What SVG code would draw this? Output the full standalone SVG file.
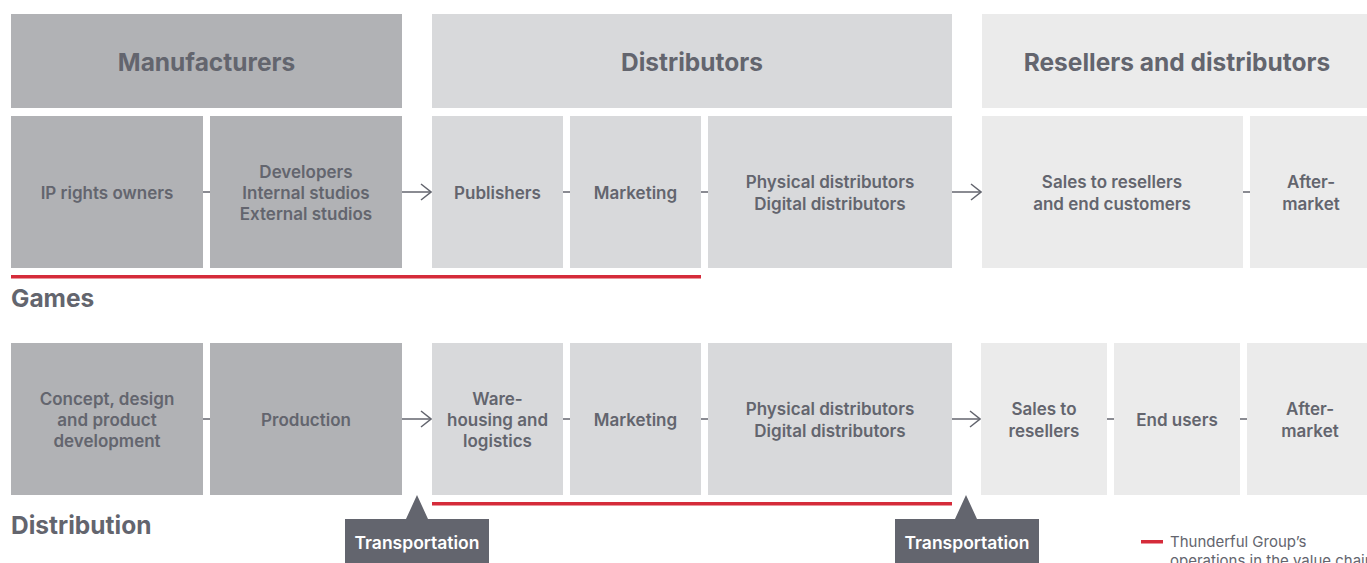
<svg xmlns="http://www.w3.org/2000/svg" width="1367" height="563" viewBox="0 0 1367 563">
<style>
.d{fill:#b1b2b5}.m{fill:#d8d9db}.l{fill:#ebebeb}
.h{font-family:Inter,"Liberation Sans",sans-serif;font-weight:700;font-size:24.5px;fill:#63656e;text-anchor:middle}
.t{font-family:Inter,"Liberation Sans",sans-serif;font-weight:600;font-size:17px;fill:#63656e;text-anchor:middle}
.s{font-family:Inter,"Liberation Sans",sans-serif;font-weight:700;font-size:24.5px;fill:#63656e}
.c{stroke:#63656e;stroke-width:1.5;fill:none}
.r{fill:#d52b3a}
.tb{fill:#63656e}
.tt{font-family:Inter,"Liberation Sans",sans-serif;font-weight:600;font-size:17.5px;fill:#ffffff;text-anchor:middle}
.lg{font-family:Inter,"Liberation Sans",sans-serif;font-size:15px;fill:#63656e}
</style>
<defs>
<marker id="ar" markerWidth="12" markerHeight="20" refX="11" refY="9" orient="auto" markerUnits="userSpaceOnUse">
<path d="M1,1 L11,9 L1,17" fill="none" stroke="#63656e" stroke-width="1.5"/>
</marker>
</defs>

<g id="hdr-manufacturers"><rect class="d" x="11" y="14" width="391" height="94"/><text class="h" x="206.5" y="71">Manufacturers</text></g>
<g id="hdr-distributors"><rect class="m" x="432" y="14" width="520" height="94"/><text class="h" x="692" y="71">Distributors</text></g>
<g id="hdr-resellers"><rect class="l" x="982" y="14" width="385" height="94"/><text class="h" x="1177" y="71">Resellers and distributors</text></g>

<g id="g-ip"><rect class="d" x="11" y="116" width="192" height="152"/><text class="t" x="107" y="199">IP rights owners</text></g>
<g id="g-dev"><rect class="d" x="210" y="116" width="192" height="152"/><text class="t" x="306" y="178">Developers</text><text class="t" x="306" y="199">Internal studios</text><text class="t" x="306" y="220">External studios</text></g>
<g id="g-pub"><rect class="m" x="432" y="116" width="131" height="152"/><text class="t" x="497.5" y="199">Publishers</text></g>
<g id="g-mkt"><rect class="m" x="570" y="116" width="131" height="152"/><text class="t" x="635.5" y="199">Marketing</text></g>
<g id="g-phys"><rect class="m" x="708" y="116" width="244" height="152"/><text class="t" x="830" y="188">Physical distributors</text><text class="t" x="830" y="210">Digital distributors</text></g>
<g id="g-sales"><rect class="l" x="982" y="116" width="261" height="152"/><text class="t" x="1112" y="188">Sales to resellers</text><text class="t" x="1112" y="210">and end customers</text></g>
<g id="g-after"><rect class="l" x="1250" y="116" width="117" height="152"/><text class="t" x="1311" y="188">After-</text><text class="t" x="1311" y="210">market</text></g>

<rect class="r" x="11" y="275" width="690" height="3.5"/>
<text class="s" x="11" y="307">Games</text>

<g id="d-concept"><rect class="d" x="11" y="343" width="192" height="152"/><text class="t" x="107" y="405">Concept, design</text><text class="t" x="107" y="426">and product</text><text class="t" x="107" y="447">development</text></g>
<g id="d-prod"><rect class="d" x="210" y="343" width="192" height="152"/><text class="t" x="306" y="426">Production</text></g>
<g id="d-ware"><rect class="m" x="432" y="343" width="131" height="152"/><text class="t" x="497.5" y="405">Ware-</text><text class="t" x="497.5" y="426">housing and</text><text class="t" x="497.5" y="447">logistics</text></g>
<g id="d-mkt"><rect class="m" x="570" y="343" width="131" height="152"/><text class="t" x="635.5" y="426">Marketing</text></g>
<g id="d-phys"><rect class="m" x="708" y="343" width="244" height="152"/><text class="t" x="830" y="415">Physical distributors</text><text class="t" x="830" y="437">Digital distributors</text></g>
<g id="d-sales"><rect class="l" x="981" y="343" width="126" height="152"/><text class="t" x="1044" y="415">Sales to</text><text class="t" x="1044" y="437">resellers</text></g>
<g id="d-end"><rect class="l" x="1114" y="343" width="126" height="152"/><text class="t" x="1177" y="426">End users</text></g>
<g id="d-after"><rect class="l" x="1247" y="343" width="120" height="152"/><text class="t" x="1310" y="415">After-</text><text class="t" x="1310" y="437">market</text></g>

<rect class="r" x="432" y="502" width="520" height="3.5"/>
<text class="s" x="11" y="534">Distribution</text>

<g id="connectors">
<line class="c" x1="203" y1="192" x2="210" y2="192"/>
<line class="c" x1="402" y1="192" x2="431" y2="192" marker-end="url(#ar)"/>
<line class="c" x1="563" y1="192" x2="570" y2="192"/>
<line class="c" x1="701" y1="192" x2="708" y2="192"/>
<line class="c" x1="952" y1="192" x2="981" y2="192" marker-end="url(#ar)"/>
<line class="c" x1="1243" y1="192" x2="1250" y2="192"/>
<line class="c" x1="203" y1="419" x2="210" y2="419"/>
<line class="c" x1="402" y1="419" x2="431" y2="419" marker-end="url(#ar)"/>
<line class="c" x1="563" y1="419" x2="570" y2="419"/>
<line class="c" x1="701" y1="419" x2="708" y2="419"/>
<line class="c" x1="952" y1="419" x2="980" y2="419" marker-end="url(#ar)"/>
<line class="c" x1="1107" y1="419" x2="1114" y2="419"/>
<line class="c" x1="1240" y1="419" x2="1247" y2="419"/>
</g>

<g id="transport-1"><path class="tb" d="M417,495 L428,519 L489,519 L489,563 L345,563 L345,519 L406,519 Z"/><text class="tt" x="417" y="549">Transportation</text></g>
<g id="transport-2"><path class="tb" d="M966,495 L977,519 L1039,519 L1039,563 L895,563 L895,519 L955,519 Z"/><text class="tt" x="967" y="549">Transportation</text></g>

<g id="legend"><rect class="r" x="1141" y="540" width="22" height="3.5"/><text class="lg" x="1170" y="547">Thunderful Group’s</text><text class="lg" x="1170" y="566">operations in the value chain</text></g>
</svg>
